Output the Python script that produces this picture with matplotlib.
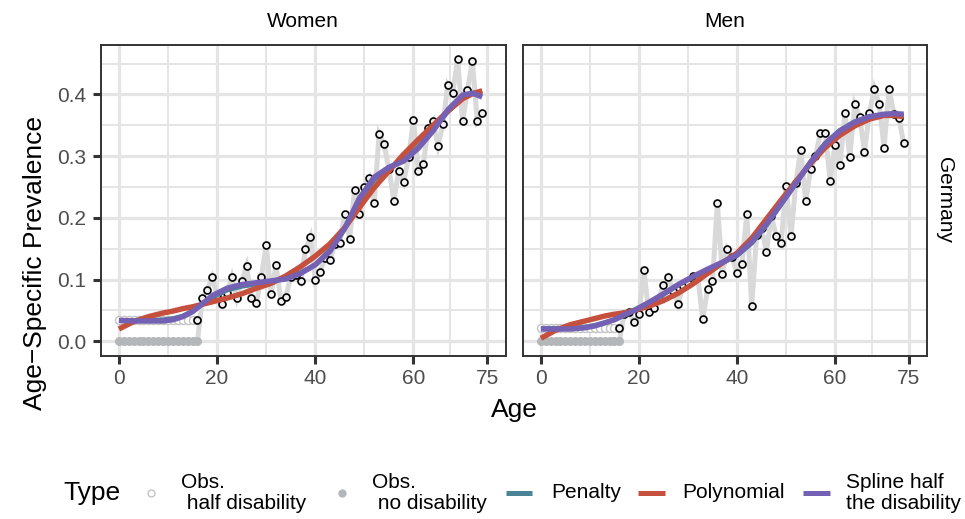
import matplotlib.pyplot as plt
from matplotlib.lines import Line2D
import numpy as np

plt.rcParams['font.family'] = ['Liberation Sans', 'DejaVu Sans']

# Observed prevalence, ages 16..74
obs_age = np.arange(16, 75)
women_obs = [0.035, 0.070, 0.083, 0.1035, 0.075, 0.061, 0.078, 0.104, 0.070, 0.097,
             0.122, 0.071, 0.062, 0.1035, 0.156, 0.077, 0.123, 0.066, 0.072, 0.105,
             0.108, 0.097, 0.149, 0.169, 0.099, 0.113, 0.135, 0.132, 0.158, 0.160,
             0.2065, 0.1665, 0.246, 0.2065, 0.250, 0.264, 0.224, 0.336, 0.319, 0.280,
             0.2275, 0.276, 0.258, 0.298, 0.358, 0.2765, 0.287, 0.345, 0.357, 0.317,
             0.352, 0.415, 0.402, 0.458, 0.357, 0.407, 0.454, 0.357, 0.370]
men_obs = [0.022, 0.045, 0.047, 0.031, 0.044, 0.116, 0.047, 0.054, 0.068, 0.091,
           0.104, 0.082, 0.061, 0.090, 0.095, 0.106, 0.104, 0.036, 0.085, 0.097,
           0.224, 0.1095, 0.150, 0.137, 0.110, 0.125, 0.206, 0.057, 0.172, 0.183,
           0.145, 0.203, 0.171, 0.159, 0.252, 0.170, 0.257, 0.310, 0.227, 0.279,
           0.300, 0.337, 0.337, 0.260, 0.318, 0.285, 0.370, 0.298, 0.384, 0.364,
           0.307, 0.370, 0.409, 0.384, 0.314, 0.409, 0.369, 0.362, 0.321]

# ages 0..16: no disability (0) and half disability
young_age = np.arange(0, 17)
women_half = 0.034
men_half = 0.022

# fitted curves
fit_age = [0, 3, 6, 9, 11, 13, 15, 17, 19, 22, 25, 28, 31, 34, 37, 40, 43, 46, 49,
           52, 55, 58, 61, 64, 67, 70, 72, 74]
women_penalty = [0.034, 0.034, 0.034, 0.035, 0.037, 0.041, 0.049, 0.060, 0.071, 0.083,
                 0.089, 0.093, 0.097, 0.102, 0.111, 0.124, 0.148, 0.184, 0.228, 0.262,
                 0.281, 0.294, 0.315, 0.343, 0.372, 0.394, 0.402, 0.405]
women_poly = [0.020, 0.032, 0.040, 0.046, 0.049, 0.053, 0.056, 0.060, 0.064, 0.070,
              0.077, 0.086, 0.094, 0.106, 0.121, 0.138, 0.158, 0.184, 0.217, 0.249,
              0.276, 0.303, 0.327, 0.350, 0.373, 0.393, 0.401, 0.406]
women_spline = [0.034, 0.033, 0.033, 0.033, 0.035, 0.040, 0.048, 0.061, 0.074, 0.086,
                0.092, 0.095, 0.098, 0.101, 0.110, 0.124, 0.146, 0.183, 0.232, 0.266,
                0.282, 0.292, 0.313, 0.341, 0.375, 0.399, 0.402, 0.396]
men_penalty = [0.021, 0.021, 0.021, 0.023, 0.026, 0.030, 0.035, 0.042, 0.050, 0.062,
               0.076, 0.091, 0.104, 0.116, 0.127, 0.139, 0.159, 0.188, 0.222, 0.256,
               0.291, 0.321, 0.342, 0.356, 0.364, 0.367, 0.367, 0.366]
men_poly = [0.005, 0.018, 0.027, 0.033, 0.037, 0.041, 0.044, 0.046, 0.050, 0.057,
            0.066, 0.078, 0.093, 0.110, 0.127, 0.143, 0.167, 0.198, 0.229, 0.259,
            0.288, 0.314, 0.334, 0.349, 0.360, 0.366, 0.366, 0.364]
men_spline = [0.020, 0.020, 0.020, 0.022, 0.025, 0.030, 0.035, 0.043, 0.050, 0.063,
              0.077, 0.092, 0.105, 0.117, 0.128, 0.140, 0.161, 0.190, 0.223, 0.256,
              0.290, 0.320, 0.341, 0.355, 0.364, 0.368, 0.369, 0.368]

panels = [
    ('Women', women_obs, women_half, women_penalty, women_poly, women_spline),
    ('Men', men_obs, men_half, men_penalty, men_poly, men_spline),
]

x_ticks = [0, 20, 40, 60, 75]
y_ticks = [0.0, 0.1, 0.2, 0.3, 0.4]

col_penalty = '#4B8497'
col_poly = '#C5503E'
col_spline = '#7561B3'
col_obs_line = '#D9D9D9'
col_nodis = '#B4B7B9'
col_half = '#C4C4C4'
col_grid = '#E5E5E5'
col_frame = '#333333'
col_ticklab = '#4D4D4D'

W, H = 965, 519
fig = plt.figure(figsize=(W / 100, H / 100), dpi=100)


def fx(px):
    return px / W


def fy(py):
    return 1 - py / H


panel_x = [(100.5, 505.5), (522.5, 927.0)]
top, bottom = 44.5, 355.5

for i, (name, obs, half, pen, poly, spl) in enumerate(panels):
    x0, x1 = panel_x[i]
    ax = fig.add_axes([fx(x0), fy(bottom), (x1 - x0) / W, (bottom - top) / H])
    ax.set_xlim(-3.75, 78.75)
    ax.set_ylim(-0.0229, 0.4809)

    # grid
    ax.set_xticks(x_ticks)
    ax.set_xticks([10, 30, 50, 67.5], minor=True)
    ax.set_yticks(y_ticks)
    ax.set_yticks([0.05, 0.15, 0.25, 0.35, 0.45], minor=True)
    ax.grid(which='major', color=col_grid, linewidth=2.3)
    ax.grid(which='minor', color=col_grid, linewidth=1.4)
    ax.set_axisbelow(True)

    # observed line: zero up to age 16, then observed values
    line_age = np.concatenate([young_age, obs_age[1:]])
    line_val = np.concatenate([np.zeros(len(young_age)), obs[1:]])
    ax.plot(line_age, line_val, color=col_obs_line, linewidth=3.6, zorder=2,
            solid_joinstyle='miter')

    ax.plot(young_age, np.zeros(len(young_age)), 'o', color=col_nodis,
            markersize=6.5, markeredgewidth=0, zorder=3)
    ax.plot(young_age, np.full(len(young_age), half), 'o', markerfacecolor='white',
            markeredgecolor=col_half, markersize=5.8, markeredgewidth=1.0, zorder=3)
    ax.plot(obs_age, obs, 'o', markerfacecolor='#F0F0F0', markeredgecolor='black',
            markersize=5.0, markeredgewidth=1.2, zorder=4)

    ax.plot(fit_age, pen, color=col_penalty, linewidth=3.4, zorder=5,
            solid_capstyle='butt')
    ax.plot(fit_age, poly, color=col_poly, linewidth=3.9, zorder=6,
            solid_capstyle='butt')
    ax.plot(fit_age, spl, color=col_spline, linewidth=3.9, zorder=7,
            solid_capstyle='butt')

    for side in ax.spines.values():
        side.set_color(col_frame)
        side.set_linewidth(1.4)

    ax.tick_params(which='major', length=6, width=2.2, color=col_frame,
                   labelsize=15, labelcolor=col_ticklab, pad=4)
    ax.tick_params(which='minor', length=0)
    ax.set_xticklabels([str(t) for t in x_ticks])
    if i == 0:
        ax.set_yticklabels(['%.1f' % t for t in y_ticks])
    else:
        ax.tick_params(axis='y', which='both', left=False, labelleft=False)

    fig.text(fx((x0 + x1) / 2), fy(22), name, ha='center', va='center', fontsize=15)

fig.text(fx(945), fy(200), 'Germany', ha='center', va='center', rotation=-90,
         fontsize=15)
fig.text(fx(35), fy(263), 'Age\u2212Specific Prevalence', ha='center', va='center',
         rotation=90, fontsize=19)
fig.text(fx(514), fy(410), 'Age', ha='center', va='center', fontsize=19)

# legend at the bottom
ly = fy(493)
fig.text(fx(63), ly, 'Type', ha='left', va='center', fontsize=19)
fig.add_artist(Line2D([fx(151)], [ly], marker='o', markerfacecolor='white',
                      markeredgecolor=col_half, markersize=5.0, markeredgewidth=1.0,
                      transform=fig.transFigure))
fig.text(fx(181), ly, 'Obs.\n half disability', ha='left', va='center', fontsize=15,
         linespacing=1.1)
fig.add_artist(Line2D([fx(341.5)], [ly], marker='o', color=col_nodis,
                      markersize=6.0, markeredgewidth=0, transform=fig.transFigure))
fig.text(fx(372), ly, 'Obs.\n no disability', ha='left', va='center', fontsize=15,
         linespacing=1.1)

for (a, b, tx), col, lab in zip([(506, 532, 551), (638, 665, 682), (803, 830, 846)],
                                [col_penalty, col_poly, col_spline],
                                ['Penalty', 'Polynomial', 'Spline half\nthe disability']):
    fig.add_artist(Line2D([fx(a), fx(b)], [ly, ly], color=col, linewidth=3.6,
                          solid_capstyle='butt', transform=fig.transFigure))
    fig.text(fx(tx), ly, lab, ha='left', va='center', fontsize=15, linespacing=1.1)

fig.savefig('out.png', dpi=100)
